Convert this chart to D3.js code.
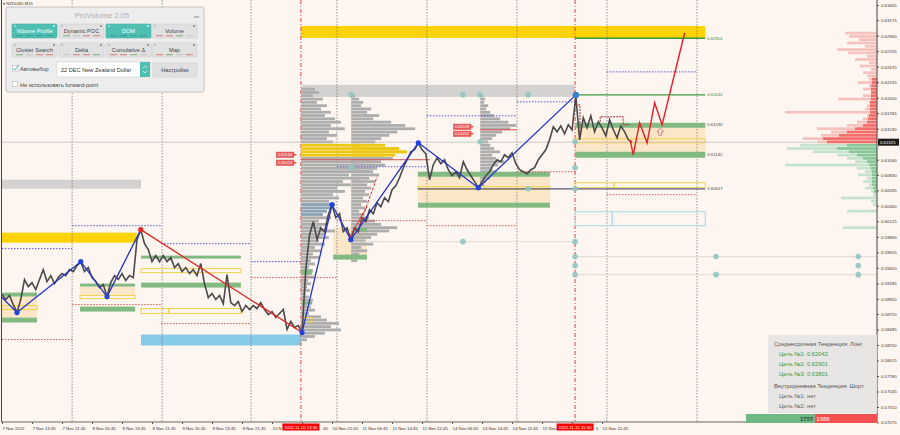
<!DOCTYPE html>
<html>
<head>
<meta charset="utf-8">
<script src="https://cdn.jsdelivr.net/npm/d3@7"></script>
<style>
  body { margin: 0; background: #fdf5ef; }
  svg { display: block; font-family: "Liberation Sans", Arial, sans-serif; }
</style>
</head>
<body>
<svg width="900" height="435"></svg>
<script>
// ---------- data ----------
// right axis ticks (as printed)
var priceTicks = [0.63405,0.63175,0.62940,0.62705,0.62470,0.62235,0.62000,0.61765,0.61530,0.61060,0.60830,
  0.60595,0.60360,0.60125,0.59890,0.59655,0.59420,0.59185,0.58950,0.58720,0.58485,0.58250,0.58015,
  0.57780,0.57545,0.57310,0.57075];
var currentPrice = 0.61325;

// time axis, hours of chart time from the first bar
var timeTickHours = [0,8,16,24,32,40,48,56,64,72,80,88,96,104,112,120,128,136,144,152,160];
var timeLabels = ["7 Nov 2022","7 Nov 13:45","7 Nov 21:45","8 Nov 05:45","8 Nov 13:45","8 Nov 21:45",
  "9 Nov 05:45","9 Nov 13:45","9 Nov 21:45","10 Nov 06:45","10 Nov 14:45","10 Nov 22:45","11 Nov 06:45",
  "11 Nov 14:45","11 Nov 22:45","14 Nov 06:45","14 Nov 14:45","14 Nov 22:45","15 Nov 06:45","15 Nov 14:45",
  "15 Nov 22:45"];
var dayBreaks = [18.7,42.7,66.4,89.3,113.3,137.3,161.3,185.3];
var sessionHours = [79.7,152.8];
var sessionLabels = ["2022.11.10 13:30","2022.11.15 15:30"];

// hourly closes (one per hour, starting at hour 0)
var closes = [0.59015,0.58939,0.59000,0.58863,0.58742,0.58939,0.59242,0.59136,0.59196,0.59090,
  0.59242,0.59393,0.59212,0.59302,0.59181,0.59272,0.59333,0.59302,0.59393,0.59363,
  0.59454,0.59514,0.59363,0.59424,0.59272,0.59212,0.59121,0.59166,0.58984,0.59196,
  0.59302,0.59242,0.59333,0.59227,0.59302,0.59272,0.59847,0.59999,0.59787,0.59696,
  0.59514,0.59605,0.59514,0.59605,0.59514,0.59575,0.59424,0.59484,0.59363,0.59424,
  0.59333,0.59393,0.59302,0.59484,0.59181,0.58969,0.59030,0.58939,0.59000,0.58878,
  0.59318,0.58894,0.58848,0.58909,0.58757,0.58848,0.58788,0.58848,0.58803,0.58894,
  0.58788,0.58712,0.58757,0.58667,0.58727,0.58788,0.58485,0.58606,0.58515,0.58545,
  0.58439,0.59393,0.59923,0.60120,0.59847,0.60029,0.59969,0.60226,0.60377,0.60181,
  0.60241,0.59969,0.60029,0.59847,0.60029,0.59969,0.60181,0.60120,0.60302,0.60241,
  0.60408,0.60347,0.60483,0.60423,0.60604,0.60665,0.60786,0.60938,0.61059,0.61180,
  0.61210,0.61316,0.61210,0.61149,0.60756,0.60983,0.61089,0.60998,0.61059,0.60907,
  0.60816,0.60877,0.60786,0.61028,0.60907,0.60816,0.60726,0.60635,0.60726,0.60816,
  0.60877,0.60983,0.61059,0.61028,0.61134,0.61089,0.61164,0.60998,0.60907,0.60877,
  0.60847,0.60907,0.60938,0.61059,0.61134,0.61210,0.61361,0.61558,0.61483,0.61573,
  0.61452,0.61589,0.61513,0.62028,0.61361,0.61695,0.61543,0.61725,0.61483,0.61634,
  0.61543,0.61422,0.61664,0.61513,0.61392,0.61573,0.61483,0.61361,0.61325];

// zigzag swings
var zigTimes  = [0,4,21,28,37,80,88,93,111,127,153];
var zigPrices = [0.58969,0.58742,0.59514,0.58984,0.59999,0.58439,0.60377,0.59847,0.61316,0.60635,0.62042];

// projected path
var forecastTimes  = [167.5,168.3,170,172,174,176,182];
var forecastPrices = [0.61361,0.61134,0.61619,0.61316,0.61922,0.61589,0.62981];
var arrowMark = [175.5, 0.61483];

// zones: [fromHour, toHour, highPrice, lowPrice]
var orangeZones = [[0,9.33,0.58985,0.58666],[20.8,35.5,0.59136,0.59000],[88.3,97.3,0.60029,0.59575],
  [110.9,146.1,0.60801,0.60408],[152.8,187.5,0.61543,0.61180]];
var greyZones = [[0,37.07,0.60756,0.60620],[80,152.8,0.62194,0.62012]];
var goldZones = [[0,35.9,0.59953,0.59802],[79.7,187.5,0.63087,0.62906]];
var blueZones = [[37.07,79.7,0.58409,0.58243]];
var greenZones = [[0,9.33,0.59045,0.58985],[0,9.33,0.58666,0.58591],
  [20.8,35.5,0.59181,0.59136],[20.8,35.5,0.58833,0.58757],
  [37.07,63.7,0.59605,0.59560],[37.07,63.7,0.59196,0.59121],
  [88.3,97.3,0.59620,0.59545],[93.6,97.3,0.60029,0.59969],
  [80,82.7,0.59393,0.59318],[80,82.7,0.58909,0.58863],
  [110.9,146.1,0.60877,0.60801],[110.9,146.1,0.60408,0.60332],
  [152.8,187.5,0.61619,0.61543],[152.8,187.5,0.61180,0.61089]];
var yellowBoxes = [[0,9.33,0.58848,0.58788],[20.8,35.5,0.59000,0.58954],[37.07,63.7,0.59408,0.59348],
  [37.07,44.5,0.58803,0.58727],[44.5,63.7,0.58803,0.58727],[80,82.7,0.58667,0.58600],
  [110.9,146.1,0.60650,0.60610],[152.8,187.5,0.61377,0.61316],
  [152.8,163.2,0.60710,0.60635],[163.2,187.5,0.60710,0.60635]];
var lightBlueBoxes = [[152.8,162.7,0.60271,0.60059],[162.7,187.5,0.60271,0.60059]];

// targets and levels
var targetLines = [0.62901,0.62042];
var levelTags = [0.62901,0.62042,0.61592,0.61142,0.60617];
var supportLine = [110.9,187.5,0.60617];

// dotted session levels: [fromHour, toHour, price]
var blueDotted = [[0,18.7,0.59711],[18.7,42.4,0.60059],[42.4,66.4,0.59787],[66.4,79.7,0.59514],
  [89.3,113.3,0.60953],[113.3,137.3,0.61725],[137.3,152.8,0.61937],[161.3,185.3,0.62391]];
var redDotted = [[0,18.7,0.58333],[18.7,42.4,0.58863],[42.4,66.4,0.58575],[66.4,89.3,0.59272],
  [89.3,113.3,0.60135],[113.3,137.3,0.60059],[137.3,152.8,0.60877],[161.3,185.3,0.60529]];

// teal pivot dots and their thin level lines
var tealDots = [[93.1,0.62043],[122.9,0.62043],[127.5,0.62043],[140.3,0.62043],[127.5,0.61331],[152.8,0.61331],
  [93.1,0.60938],[152.8,0.60938],[140.3,0.60620],[152.8,0.60620],[122.9,0.59817],[152.8,0.59817],
  [152.8,0.59590],[190.4,0.59590],[228.3,0.59590],[152.8,0.59454],[228.3,0.59454],
  [152.8,0.59317],[190.4,0.59317],[228.3,0.59317]];
var tealLevels = [[93.1,152.8,0.59817],[152.8,233.3,0.59590],[152.8,233.3,0.59317]];

// volume profiles (bin = 0.0005)
var profileBin = 0.0005;
var profileStarts = [79.7, 93.1, 127.5];
var profileTops = [0.62150, 0.62050, 0.62050];
var profileAVol = [14,18,12,22,16,26,20,30,24,34, 40,30,44,28,36,26,32,62,98,104,
  84,92,72,64,56,68,48,58,42,50, 36,44,32,38,28,34,30,26,22,30,
  18,26,20,34,24,28,18,24,14,20, 12,18,10,14,8,12,9,14,7,10,
  6,9,5,8,12,6,10,14,8,20, 26,38,30,40,24,14,6];
var profileBVol = [4,8,12,10,20,16,28,22,40,54, 64,46,38,30,24,34,48,56,44,38,
  30,34,26,22,28,18,24,16,20,14, 18,12,16,10,14,8,12,18,24,30,
  46,38,26,20,14,22,10,16,8,12, 6];
var profileCVol = [3,5,4,8,6,10,14,20,28,36, 30,22,16,12,8,10,14,20,12,16, 24,18,12,16,8,10,6,4];
var valueAreas = [[0.6131,0.6110],[0.6131,0.6110],null];
var hvnArea = [0.6040,0.6022];
var pocLines = [[79.7,114.1,0.61059],[127.5,137.3,0.61513]];
var priceTags = [[78.4,0.61134],[78.4,0.61013],[125.6,0.61558],[125.6,0.61452]];

// small trend / cluster lines
var redTrends = [[94.7,0.59953,100,0.60801],[92.3,0.59847,97.3,0.60347]];
var clusterTimes1 = [152.8,154.1,154.1], clusterPrices1 = [0.61891,0.61891,0.61407];
var clusterTimes2 = [159.5,159.5,165.6,165.6,167.5], clusterPrices2 = [0.61634,0.61710,0.61710,0.61589,0.61589];

// depth of market (bin = 0.0005), asks from 0.63000 down, bids from 0.61300 down
var askTop = 0.63000, bidTop = 0.61300;
var askPale = [32,28,18,30,12,40,29,10,22,8,17,6,14,10,8,19,8,14,6,14,39,8,10,12,92,10,14,20,30,60,46,56,74,60];
var askCore = [0,0,0,0,0,0,0,0,0,0,0,0,0,0,5,5,6,6,6,6,6,7,7,7,7,8,9,10,14,22,30,38,54,50];
var bidPale = [77,90,64,40,30,22,92,20,12,19,10,14,8,12,6,4,36,6,4,0,30,0,0,0,0,34];
var bidCore = [30,40,28,20,14,10,8,6,5,5,5,5,5,4,3,0,0,0,0,0,0,0,0,0,0,0];
var domTotals = [1757, 1586];

// info box
var midTrend = "Среднесрочная Тенденция: Лонг";
var midTargets = [0.62042, 0.62901, 0.63801];
var dayTrend = "Внутридневная Тенденция: Шорт";
var dayTargets = ["нет", "нет"];

// panel
var buttonRows = [["Volume Profile","Dynamic POC","DOM","Volume"],["Cluster Search","Delta","Cumulative Δ","Map"]];
var activeButtons = ["Volume Profile","DOM"];

// ---------- scales ----------
var svg = d3.select("svg");
var x = d3.scaleLinear().domain([0, 233.3]).range([2, 877]);
var y = d3.scaleLinear().domain([0.57075, 0.63405]).range([422.5, 5]);
var vol = d3.scaleLinear().domain([0, 100]).range([0, 100]);

svg.append("rect").attr("width", 900).attr("height", 435).attr("fill", "#fdf5ef");
var plot = svg.append("g");

function zones(data, fill, stroke, sw) {
  plot.append("g").selectAll("rect").data(data).join("rect")
    .attr("x", function(d) { return x(d[0]); })
    .attr("width", function(d) { return x(d[1]) - x(d[0]); })
    .attr("y", function(d) { return y(d[2]); })
    .attr("height", function(d) { return Math.max(1, y(d[3]) - y(d[2])); })
    .attr("fill", fill)
    .attr("stroke", stroke || "none")
    .attr("stroke-width", sw || 0);
}
function hlines(data, color, dash, sw) {
  plot.append("g").selectAll("line").data(data).join("line")
    .attr("x1", function(d) { return x(d[0]); })
    .attr("x2", function(d) { return x(d[1]); })
    .attr("y1", function(d) { return y(d[2]); })
    .attr("y2", function(d) { return y(d[2]); })
    .attr("stroke", color).attr("stroke-width", sw || 1)
    .attr("stroke-dasharray", dash || null);
}

// background zones
zones(orangeZones, "#fbe6c7");
zones(greyZones, "#d4d2d0");
zones(goldZones, "#fcd200");
zones(blueZones, "#86cbe8");

// day separators and session lines
plot.append("g").selectAll("line").data(dayBreaks).join("line")
  .attr("x1", d => x(d)).attr("x2", d => x(d)).attr("y1", 0).attr("y2", 422)
  .attr("stroke", "#7d7d7d").attr("stroke-width", 0.8).attr("stroke-dasharray", "1.5,1.5");
plot.append("g").selectAll("line").data(sessionHours).join("line")
  .attr("x1", d => x(d)).attr("x2", d => x(d)).attr("y1", 0).attr("y2", 422)
  .attr("stroke", "#e03030").attr("stroke-width", 0.9).attr("stroke-dasharray", "4,2,1,2");

// volume profiles
function profile(start, top, vols, va, hvn) {
  plot.append("g").selectAll("rect").data(vols).join("rect")
    .attr("x", x(start))
    .attr("y", function(d, i) { return y(top - profileBin * i); })
    .attr("width", function(d) { return vol(d); })
    .attr("height", function(d, i) { return y(top - profileBin * (i + 1)) - y(top - profileBin * i) - 0.5; })
    .attr("fill", function(d, i) {
      var mid = top - profileBin * (i + 0.5);
      if (va && mid <= va[0] && mid >= va[1]) return "#ecc814";
      if (hvn && mid <= hvn[0] && mid >= hvn[1]) return "#8aa3b5";
      return "#adadad";
    });
}
profile(profileStarts[0], profileTops[0], profileAVol, valueAreas[0], hvnArea);
profile(profileStarts[1], profileTops[1], profileBVol, valueAreas[1], null);
profile(profileStarts[2], profileTops[2], profileCVol, valueAreas[2], null);

// bands and boxes
zones(greenZones, "#82ba82");
zones(yellowBoxes, "none", "#f1d34a", 1);
zones(lightBlueBoxes, "none", "#a9d8e6", 1);

// dotted levels, thin levels, current price
hlines(blueDotted, "#4a4ad6", "1.5,1.5", 0.9);
hlines(redDotted, "#d64a4a", "1.5,1.5", 0.9);
hlines(tealLevels, "#d9d2cc", null, 0.8);
hlines([[0, 233.3, currentPrice]], "#c4c0bc", null, 0.8);
hlines(pocLines, "#d85050", null, 1);

// targets and support line
hlines(targetLines.map(function(p) { return [152.8, 187.5, p]; }), "#3c9a3c", null, 1.4);
hlines([supportLine], "#5a5a7a", null, 1.3);

// price line
var line = d3.line().x(function(d, i) { return x(i); }).y(function(d) { return y(d); });
plot.append("path").datum(closes).attr("d", line)
  .attr("fill", "none").attr("stroke", "#4a4a4a").attr("stroke-width", 1.6).attr("stroke-linejoin", "miter");

// small red trend lines
plot.append("g").selectAll("line").data(redTrends).join("line")
  .attr("x1", d => x(d[0])).attr("y1", d => y(d[1])).attr("x2", d => x(d[2])).attr("y2", d => y(d[3]))
  .attr("stroke", "#e23030").attr("stroke-width", 1)
  .attr("stroke-dasharray", function(d, i) { return i === 0 ? "3,1.5" : null; });

// cluster outline
var pl = d3.line().x(d => x(d[0])).y(d => y(d[1]));
plot.append("path").datum(d3.zip(clusterTimes1, clusterPrices1)).attr("d", pl)
  .attr("fill", "none").attr("stroke", "#a03030").attr("stroke-dasharray", "2,1");
plot.append("path").datum(d3.zip(clusterTimes2, clusterPrices2)).attr("d", pl)
  .attr("fill", "none").attr("stroke", "#a03030").attr("stroke-dasharray", "2,1");

// zigzag
var zig = d3.zip(zigTimes, zigPrices);
plot.append("g").selectAll("line").data(zig.slice(0, -1)).join("line")
  .attr("x1", d => x(d[0])).attr("y1", d => y(d[1]))
  .attr("x2", function(d, i) { return x(zig[i + 1][0]); })
  .attr("y2", function(d, i) { return y(zig[i + 1][1]); })
  .attr("stroke", function(d, i) { return i === 4 ? "#e02828" : "#2233cc"; })
  .attr("stroke-width", 1.3);
plot.append("g").selectAll("circle").data(zig.slice(1)).join("circle")
  .attr("cx", d => x(d[0])).attr("cy", d => y(d[1]))
  .attr("r", function(d, i) { return i === zig.length - 2 ? 3.2 : 2.6; })
  .attr("fill", function(d, i) { return i === 3 ? "#e02828" : (i === zig.length - 2 ? "#3a7fd0" : "#2244dd"); });

// forecast
plot.append("path").datum(d3.zip(forecastTimes, forecastPrices)).attr("d", pl)
  .attr("fill", "none").attr("stroke", "#e8202a").attr("stroke-width", 1.4);
plot.append("path")
  .attr("transform", "translate(" + x(arrowMark[0]) + "," + y(arrowMark[1]) + ")")
  .attr("d", "M0,-3.5L3.2,0L1.3,0L1.3,3.5L-1.3,3.5L-1.3,0L-3.2,0Z")
  .attr("fill", "#fff4ee").attr("stroke", "#e85a5a").attr("stroke-width", 0.8);

// teal dots
plot.append("g").selectAll("circle").data(tealDots).join("circle")
  .attr("cx", d => x(d[0])).attr("cy", d => y(d[1])).attr("r", 2.8)
  .attr("fill", "#8fc7bf").attr("opacity", 0.9);

// level tags on the right of the zone
plot.append("g").selectAll("text").data(levelTags).join("text")
  .attr("x", x(187.5) + 2).attr("y", d => y(d) + 1.5)
  .attr("font-size", 4.3)
  .attr("fill", function(d, i) { return i < 2 ? "#3c8a3c" : "#444"; })
  .text(d => d3.format(".5f")(d));

// red price tags
var tags = plot.append("g").selectAll("g").data(priceTags).join("g")
  .attr("transform", d => "translate(" + x(d[0]) + "," + y(d[1]) + ")");
tags.append("rect").attr("x", -20).attr("y", -3).attr("width", 18).attr("height", 6).attr("fill", "#e85a5a");
tags.append("path").attr("d", "M-2,-1.5L1,0L-2,1.5Z").attr("fill", "#e85a5a");
tags.append("text").attr("x", -11).attr("y", 1.6).attr("text-anchor", "middle")
  .attr("font-size", 4).attr("fill", "#fff").text(d => d3.format(".5f")(d[1]));

// depth of market
function dom(top, pale, core, paleColor, coreColor) {
  var g = plot.append("g");
  [[pale, paleColor], [core, coreColor]].forEach(function(s) {
    g.append("g").selectAll("rect").data(s[0]).join("rect")
      .attr("x", d => x(233.3) - vol(d)).attr("width", d => vol(d))
      .attr("y", function(d, i) { return y(top - profileBin * i); })
      .attr("height", function(d, i) { return y(top - profileBin * (i + 1)) - y(top - profileBin * i) - 0.6; })
      .attr("fill", s[1]);
  });
}
dom(askTop, askPale, askCore, "#f7c2bd", "#f36e6a");
dom(bidTop, bidPale, bidCore, "#c5e3cc", "#89c79a");

// ---------- axes ----------
var fmt = d3.format(".5f");
var yAxis = svg.append("g").attr("transform", "translate(877,0)")
  .call(d3.axisRight(y).tickValues(priceTicks).tickFormat(fmt).tickSize(2).tickSizeOuter(0));
yAxis.select(".domain").remove();
yAxis.selectAll("line").attr("stroke", "#555");
yAxis.selectAll("text").attr("font-size", 4.3).attr("fill", "#333").attr("x", 4);

var xAxis = svg.append("g").attr("transform", "translate(0,422)")
  .call(d3.axisBottom(x).tickValues(timeTickHours).tickFormat(function(d, i) { return timeLabels[i]; })
    .tickSize(2).tickSizeOuter(0));
xAxis.select(".domain").remove();
xAxis.selectAll("line").attr("stroke", "#555");
xAxis.selectAll("text").attr("font-size", 4.3).attr("fill", "#333")
  .attr("text-anchor", "start").attr("x", 0).attr("y", 5);

// session time boxes hide the middle of the labels below them: keep only the visible ends
var boxHalf = 18.5;
xAxis.selectAll(".tick").each(function(d) {
  var tick = d3.select(this);
  var t = tick.select("text"), node = t.node();
  var full = node.textContent, x0 = x(d), len = node.getComputedTextLength();
  sessionHours.forEach(function(h) {
    var b0 = x(h) - boxHalf, b1 = x(h) + boxHalf;
    if (x0 < b1 && x0 + len > b0) {
      var n = 0;
      while (n < full.length && node.getSubStringLength(0, n + 1) <= b0 - x0 - 0.5) n++;
      var m = full.length;
      for (var k = 0; k <= full.length; k++) {
        if (k === full.length || x0 + node.getSubStringLength(0, k) >= b1 + 0.5) { m = k; break; }
      }
      var rightX = m < full.length ? node.getSubStringLength(0, m) : 0;
      t.text(full.slice(0, n));
      if (m < full.length) {
        tick.append("text").attr("font-size", 4.3).attr("fill", "#333")
          .attr("text-anchor", "start").attr("x", rightX).attr("y", 5).attr("dy", "0.71em")
          .text(full.slice(m));
      }
    }
  });
});

// frame
svg.append("line").attr("x1", 1.5).attr("x2", 1.5).attr("y1", 0).attr("y2", 422).attr("stroke", "#444");
svg.append("line").attr("x1", 877).attr("x2", 877).attr("y1", 0).attr("y2", 422).attr("stroke", "#444");
svg.append("line").attr("x1", 1.5).attr("x2", 877).attr("y1", 422).attr("y2", 422).attr("stroke", "#666");

// current price box
svg.append("rect").attr("x", 878).attr("y", y(currentPrice) - 3.5).attr("width", 21).attr("height", 7).attr("fill", "#1b1b1b");
svg.append("text").attr("x", 880).attr("y", y(currentPrice) + 1.6).attr("font-size", 4.3).attr("fill", "#fff").text(fmt(currentPrice));

// session time boxes
var sb = svg.append("g").selectAll("g").data(sessionHours).join("g")
  .attr("transform", d => "translate(" + x(d) + ",423.5)");
sb.append("rect").attr("x", -boxHalf).attr("width", boxHalf * 2).attr("height", 7).attr("fill", "#f40000");
sb.append("text").attr("y", 5.2).attr("text-anchor", "middle").attr("font-size", 4.3).attr("fill", "#fff")
  .text(function(d, i) { return sessionLabels[i]; });

// ---------- info box ----------
var info = svg.append("g");
info.append("rect").attr("x", 768).attr("y", 335).attr("width", 109).attr("height", 78).attr("fill", "#e6e5e4").attr("opacity", 0.95);
info.append("text").attr("x", 774).attr("y", 346).attr("font-size", 5.8).attr("fill", "#555").text(midTrend);
info.selectAll(null).data(midTargets).join("text")
  .attr("x", 779).attr("y", (d, i) => 356 + i * 10).attr("font-size", 5.8).attr("fill", "#3d9c3d")
  .text((d, i) => "Цель №" + (i + 1) + ": " + fmt(d));
info.append("text").attr("x", 774).attr("y", 388).attr("font-size", 5.8).attr("fill", "#555").text(dayTrend);
info.selectAll(null).data(dayTargets).join("text")
  .attr("x", 779).attr("y", (d, i) => 398 + i * 9.5).attr("font-size", 5.8).attr("fill", "#666")
  .text((d, i) => "Цель №" + (i + 1) + ": " + d);

var tot = d3.scaleLinear().domain([0, d3.sum(domTotals)]).range([0, 131]);
svg.append("rect").attr("x", 746).attr("y", 414).attr("width", tot(domTotals[0])).attr("height", 9).attr("fill", "#6fb886");
svg.append("rect").attr("x", 746 + tot(domTotals[0])).attr("y", 414).attr("width", tot(domTotals[1])).attr("height", 9).attr("fill", "#f25050");
svg.append("text").attr("x", 746 + tot(domTotals[0]) - 1.5).attr("y", 421).attr("text-anchor", "end")
  .attr("font-size", 6).attr("font-weight", "bold").attr("fill", "#2f4a36").text(domTotals[0]);
svg.append("text").attr("x", 746 + tot(domTotals[0]) + 1.5).attr("y", 421)
  .attr("font-size", 6).attr("font-weight", "bold").attr("fill", "#ffd6cf").text(domTotals[1]);

// ---------- ProVolume panel ----------
svg.append("text").attr("x", 3).attr("y", 5).attr("font-size", 4.2).attr("fill", "#333").text("▾ NZDUSD,M15");
var panel = svg.append("g");
panel.append("rect").attr("x", 6).attr("y", 7).attr("width", 198).attr("height", 85).attr("rx", 2)
  .attr("fill", "#ededed").attr("stroke", "#c2c2c2");
panel.append("text").attr("x", 102).attr("y", 17.5).attr("text-anchor", "middle").attr("font-size", 7.7)
  .attr("fill", "#b0b0b0").text("ProVolume 2.05");
panel.append("line").attr("x1", 194).attr("x2", 199).attr("y1", 17).attr("y2", 17).attr("stroke", "#888");

var btnX = [12, 59, 106, 152], btnY = [24, 43];
var stripColors = ["#d45555", "#5a9e5a", "#bbbbbb", "#d45555"];
buttonRows.forEach(function(row, r) {
  row.forEach(function(label, c) {
    var on = activeButtons.indexOf(label) >= 0;
    var b = panel.append("g").attr("transform", "translate(" + btnX[c] + "," + btnY[r] + ")");
    b.append("rect").attr("width", 45).attr("height", 14).attr("rx", 1)
      .attr("fill", on ? "#4fbfb2" : "#e1e1e1").attr("stroke", on ? "#46aea2" : "#cfcfcf").attr("stroke-width", 0.6);
    b.append("text").attr("x", 22.5).attr("y", 8.6).attr("text-anchor", "middle").attr("font-size", 5.6)
      .attr("fill", on ? "#ffffff" : "#444").text(label);
    b.append("circle").attr("cx", 3).attr("cy", 2).attr("r", 0.8).attr("fill", on ? "#e8f7f5" : "#999");
    b.append("circle").attr("cx", 42).attr("cy", 2).attr("r", 0.9).attr("fill", on ? "#e8f7f5" : "#777");
    [0, 1, 2, 3].forEach(function(k) {
      b.append("rect").attr("x", 4 + k * 10).attr("y", 11.3).attr("width", 7).attr("height", 0.9)
        .attr("fill", on ? "#2f8f84" : stripColors[(k + c + r) % 4]).attr("opacity", 0.8);
    });
  });
});
// row 3
panel.append("rect").attr("x", 12.5).attr("y", 65.5).attr("width", 5.5).attr("height", 5.5).attr("fill", "#fff").attr("stroke", "#aaa").attr("stroke-width", 0.5);
panel.append("path").attr("d", "M13.5,68.3L15,70L18.5,64.8").attr("fill", "none").attr("stroke", "#4fbfb2").attr("stroke-width", 1);
panel.append("text").attr("x", 20).attr("y", 71).attr("font-size", 5.6).attr("fill", "#444").text("Автовыбор");
panel.append("rect").attr("x", 57).attr("y", 62).attr("width", 93).attr("height", 15).attr("fill", "#fff").attr("stroke", "#cfcfcf").attr("stroke-width", 0.6);
panel.append("text").attr("x", 61).attr("y", 72).attr("font-size", 5.6).attr("fill", "#333").text("22 DEC New Zealand Dollar");
panel.append("rect").attr("x", 140).attr("y", 62).attr("width", 10).attr("height", 15).attr("fill", "#4fbfb2");
panel.append("path").attr("d", "M143,68L145,66L147,68M143,71L145,73L147,71").attr("fill", "none").attr("stroke", "#fff").attr("stroke-width", 0.6);
panel.append("rect").attr("x", 153).attr("y", 63).attr("width", 44).attr("height", 14).attr("rx", 1).attr("fill", "#e0e0e0").attr("stroke", "#cfcfcf").attr("stroke-width", 0.6);
panel.append("text").attr("x", 175).attr("y", 72).attr("text-anchor", "middle").attr("font-size", 5.6).attr("fill", "#444").text("Настройки");
// row 4
panel.append("rect").attr("x", 12.5).attr("y", 81.5).attr("width", 5).attr("height", 5).attr("fill", "#fff").attr("stroke", "#aaa").attr("stroke-width", 0.5);
panel.append("text").attr("x", 20).attr("y", 86.5).attr("font-size", 5.6).attr("fill", "#444").text("Не использовать forward-point");
</script>
</body>
</html>
